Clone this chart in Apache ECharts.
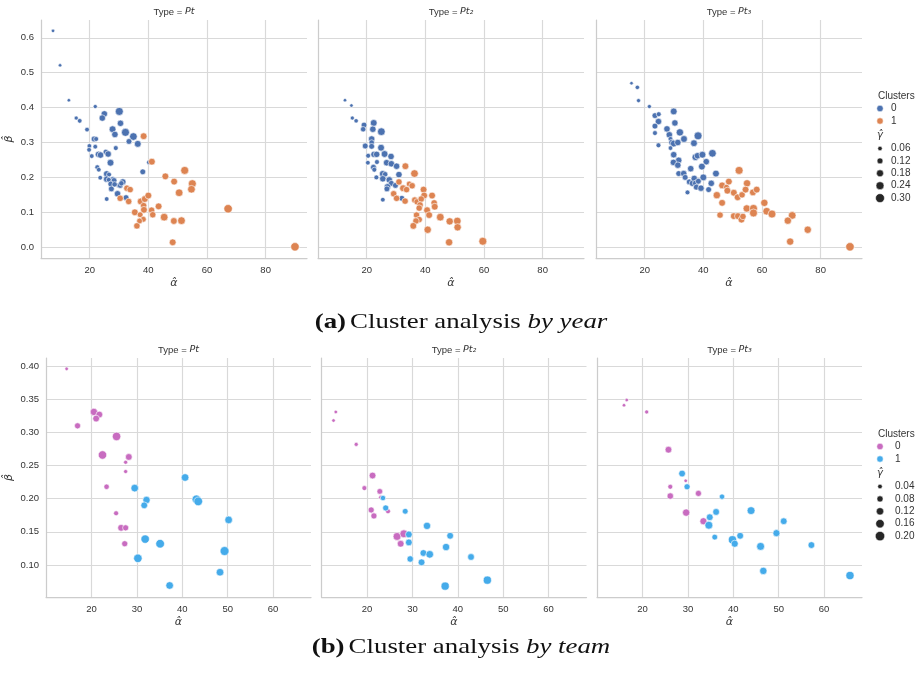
<!DOCTYPE html>
<html>
<head>
<meta charset="utf-8">
<script src="https://cdn.jsdelivr.net/npm/echarts@6/dist/echarts.min.js"></script>
<style>
html, body { margin: 0; padding: 0; background: #ffffff; }
#chart { width: 916px; height: 675px; }
</style>
</head>
<body>
<div id="chart"></div>
<script>
// ---- Facet labels, ticks and legend entries ----
const typeLabels = ['Pt', 'Pt\u2082', 'Pt\u2083'];
const clusterNames = ['0', '1'];
const yearXTicks = [20, 40, 60, 80];
const yearYTicks = [0.0, 0.1, 0.2, 0.3, 0.4, 0.5, 0.6];
const teamXTicks = [20, 30, 40, 50, 60];
const teamYTicks = [0.10, 0.15, 0.20, 0.25, 0.30, 0.35, 0.40];
const yearGammaTicks = [0.06, 0.12, 0.18, 0.24, 0.30];
const teamGammaTicks = [0.04, 0.08, 0.12, 0.16, 0.20];

// ---- (a) by year: [alpha, beta, gamma] per cluster ----
const yearPtC0 = [
  [7.5,0.620,0.03],[9.9,0.521,0.03],[12.9,0.421,0.03],[15.4,0.370,0.05],[16.6,0.362,0.07],[19.1,0.337,0.07],
  [21.9,0.403,0.05],[25.0,0.382,0.15],[24.3,0.370,0.15],[30.1,0.389,0.24],[30.5,0.355,0.15],[27.8,0.338,0.17],
  [28.6,0.323,0.15],[32.2,0.329,0.24],[34.9,0.317,0.22],[33.4,0.303,0.12],[36.4,0.296,0.17],[21.5,0.310,0.12],
  [22.2,0.310,0.08],[19.9,0.290,0.07],[19.8,0.279,0.07],[21.9,0.288,0.07],[20.7,0.261,0.07],[23.0,0.266,0.15],
  [23.7,0.264,0.15],[25.5,0.273,0.10],[26.3,0.267,0.15],[28.9,0.284,0.08],[27.1,0.242,0.17],[22.6,0.229,0.08],
  [23.1,0.222,0.07],[40.2,0.243,0.07],[38.1,0.216,0.12],[23.6,0.199,0.07],[25.8,0.210,0.15],[26.6,0.208,0.08],
  [25.8,0.195,0.15],[27.9,0.195,0.10],[28.3,0.191,0.12],[26.5,0.193,0.08],[27.2,0.181,0.12],[29.8,0.177,0.08],
  [30.4,0.177,0.12],[31.3,0.187,0.15],[27.4,0.167,0.12],[29.5,0.153,0.15],[32.4,0.142,0.12],[25.8,0.138,0.07],
  [28.5,0.180,0.10],[30.8,0.183,0.10]
];
const yearPtC1 = [
  [38.4,0.318,0.17],[41.2,0.245,0.17],[45.8,0.203,0.17],[52.4,0.220,0.24],[48.8,0.188,0.17],[55.0,0.182,0.24],
  [50.5,0.156,0.22],[54.7,0.166,0.22],[32.7,0.169,0.15],[33.8,0.165,0.15],[30.4,0.140,0.15],[33.3,0.131,0.15],
  [37.4,0.131,0.17],[38.8,0.138,0.17],[40.0,0.148,0.17],[43.5,0.117,0.17],[38.4,0.119,0.15],[38.5,0.107,0.17],
  [41.1,0.106,0.15],[41.5,0.093,0.15],[35.4,0.100,0.17],[37.2,0.093,0.12],[38.3,0.080,0.12],[37.0,0.075,0.12],
  [36.1,0.061,0.15],[45.4,0.086,0.22],[48.7,0.075,0.17],[51.3,0.076,0.22],[48.3,0.014,0.17],[67.2,0.110,0.27],
  [90.0,0.001,0.27]
];
const yearPt2C0 = [
  [12.6,0.421,0.03],[14.8,0.406,0.03],[15.1,0.370,0.05],[16.4,0.362,0.06],[19.1,0.350,0.12],[18.8,0.338,0.10],
  [22.4,0.356,0.17],[22.1,0.338,0.15],[25.0,0.331,0.22],[21.7,0.310,0.15],[21.7,0.300,0.10],[21.7,0.289,0.12],
  [19.5,0.290,0.12],[20.5,0.262,0.08],[20.4,0.242,0.07],[22.5,0.266,0.15],[23.4,0.266,0.15],[24.9,0.285,0.17],
  [26.1,0.267,0.17],[28.3,0.260,0.15],[23.5,0.244,0.08],[26.8,0.242,0.15],[28.4,0.239,0.15],[30.2,0.232,0.15],
  [22.3,0.229,0.12],[22.6,0.222,0.08],[25.5,0.210,0.17],[26.3,0.209,0.10],[31.0,0.208,0.15],[23.3,0.200,0.08],
  [25.5,0.196,0.15],[27.7,0.193,0.15],[28.4,0.183,0.12],[29.8,0.177,0.12],[27.1,0.173,0.15],[26.9,0.167,0.12],
  [32.0,0.140,0.12],[25.5,0.136,0.07]
];
const yearPt2C1 = [
  [33.2,0.232,0.17],[36.3,0.211,0.22],[31.0,0.187,0.15],[34.5,0.181,0.12],[35.5,0.176,0.15],[32.4,0.169,0.17],
  [33.6,0.165,0.15],[39.4,0.165,0.17],[39.6,0.148,0.17],[42.3,0.148,0.17],[29.2,0.153,0.15],[30.2,0.140,0.15],
  [33.1,0.132,0.15],[36.4,0.135,0.15],[37.2,0.130,0.15],[38.6,0.138,0.15],[38.2,0.121,0.15],[37.9,0.112,0.15],
  [43.0,0.127,0.15],[43.2,0.116,0.17],[40.6,0.106,0.17],[41.3,0.092,0.17],[45.1,0.086,0.22],[37.0,0.092,0.15],
  [37.9,0.079,0.15],[36.8,0.075,0.15],[35.9,0.061,0.17],[48.3,0.074,0.20],[50.9,0.075,0.22],[51.0,0.057,0.20],
  [40.8,0.050,0.20],[48.1,0.014,0.20],[59.6,0.017,0.24]
];
const yearPt3C0 = [
  [15.5,0.470,0.03],[17.5,0.458,0.06],[17.9,0.420,0.05],[21.6,0.403,0.05],[23.5,0.377,0.12],[24.8,0.381,0.08],
  [24.7,0.360,0.15],[23.5,0.347,0.12],[23.5,0.327,0.08],[24.7,0.292,0.08],[29.9,0.389,0.17],[30.3,0.356,0.15],
  [27.6,0.339,0.15],[28.4,0.322,0.15],[28.8,0.310,0.08],[29.3,0.300,0.15],[29.9,0.297,0.17],[31.3,0.300,0.15],
  [32.0,0.329,0.20],[33.4,0.310,0.17],[38.2,0.319,0.24],[36.8,0.298,0.17],[28.8,0.284,0.07],[29.9,0.265,0.15],
  [31.6,0.249,0.15],[29.8,0.243,0.15],[31.3,0.235,0.15],[37.3,0.258,0.17],[38.0,0.262,0.15],[39.7,0.265,0.17],
  [43.1,0.269,0.22],[41.0,0.245,0.15],[39.5,0.231,0.17],[31.6,0.211,0.12],[33.3,0.211,0.15],[35.7,0.225,0.15],
  [40.0,0.200,0.17],[33.8,0.200,0.12],[35.2,0.187,0.12],[36.3,0.183,0.15],[36.9,0.197,0.15],[37.4,0.183,0.15],
  [38.3,0.189,0.12],[37.6,0.172,0.12],[39.2,0.169,0.15],[34.6,0.157,0.08],[41.8,0.165,0.12],[42.7,0.183,0.15],
  [44.3,0.211,0.17]
];
const yearPt3C1 = [
  [52.2,0.220,0.24],[46.4,0.177,0.17],[47.9,0.172,0.12],[48.7,0.188,0.17],[48.2,0.162,0.17],[50.4,0.156,0.17],
  [51.7,0.143,0.17],[53.2,0.150,0.15],[54.9,0.183,0.20],[54.4,0.165,0.17],[56.9,0.157,0.17],[58.2,0.165,0.17],
  [44.6,0.149,0.20],[46.4,0.127,0.17],[60.8,0.127,0.20],[54.8,0.111,0.20],[57.1,0.111,0.24],[57.1,0.098,0.24],
  [61.6,0.103,0.22],[63.4,0.095,0.24],[70.3,0.091,0.22],[68.8,0.076,0.20],[75.6,0.050,0.20],[69.6,0.016,0.20],
  [90.0,0.001,0.27],[45.7,0.092,0.15],[50.4,0.089,0.17],[51.8,0.089,0.17],[53.0,0.079,0.17],[53.5,0.088,0.15]
];

// ---- (b) by team: [alpha, beta, gamma] per cluster ----
const teamPtC0 = [
  [14.5,0.396,0.02],[16.9,0.310,0.08],[20.5,0.331,0.12],[21.7,0.327,0.10],[21.0,0.321,0.10],[25.5,0.294,0.16],
  [22.4,0.266,0.16],[28.2,0.263,0.10],[27.5,0.255,0.03],[27.5,0.241,0.03],[23.3,0.218,0.06],[25.4,0.178,0.05],
  [26.5,0.156,0.10],[27.5,0.156,0.08],[27.3,0.132,0.08]
];
const teamPtC1 = [
  [40.6,0.232,0.13],[29.5,0.216,0.13],[32.1,0.198,0.12],[31.6,0.190,0.10],[43.1,0.199,0.17],[43.5,0.196,0.17],
  [50.2,0.168,0.13],[31.8,0.139,0.16],[35.1,0.132,0.17],[49.3,0.121,0.18],[30.2,0.110,0.16],[48.3,0.089,0.13],
  [37.2,0.069,0.13]
];
const teamPt2C0 = [
  [13.1,0.331,0.02],[12.6,0.318,0.02],[17.6,0.282,0.03],[21.2,0.235,0.10],[19.4,0.216,0.05],[22.8,0.211,0.07],
  [23.0,0.202,0.03],[20.9,0.183,0.08],[21.5,0.174,0.08],[24.6,0.181,0.05],[26.6,0.143,0.14],[28.1,0.147,0.14],
  [27.4,0.132,0.10]
];
const teamPt2C1 = [
  [23.5,0.201,0.06],[24.1,0.186,0.08],[28.4,0.181,0.07],[33.2,0.159,0.12],[29.2,0.146,0.10],[38.3,0.144,0.10],
  [29.2,0.134,0.10],[37.4,0.127,0.12],[32.4,0.118,0.10],[33.8,0.116,0.13],[29.5,0.109,0.09],[32.0,0.104,0.10],
  [42.9,0.112,0.10],[46.5,0.077,0.15],[37.2,0.068,0.15]
];
const teamPt3C0 = [
  [16.5,0.349,0.02],[15.9,0.341,0.02],[20.9,0.331,0.03],[25.7,0.274,0.10],[26.1,0.218,0.05],[26.1,0.204,0.09],
  [29.5,0.227,0.02],[32.3,0.208,0.08],[29.6,0.179,0.12],[33.4,0.166,0.11]
];
const teamPt3C1 = [
  [28.7,0.238,0.10],[29.8,0.218,0.08],[37.5,0.203,0.06],[43.9,0.182,0.14],[36.2,0.180,0.10],[34.8,0.172,0.10],
  [51.1,0.166,0.10],[34.6,0.160,0.14],[35.9,0.142,0.07],[49.5,0.148,0.11],[41.5,0.144,0.10],[39.8,0.138,0.15],
  [40.3,0.132,0.11],[46.0,0.128,0.14],[57.2,0.130,0.10],[46.6,0.091,0.12],[65.7,0.084,0.15]
];

// ---- styling ----
const SANS = '"Liberation Sans", Arial, sans-serif';
const MATH = '"DejaVu Sans", sans-serif';
const SERIF = '"Liberation Serif", "DejaVu Serif", serif';
const TEXT = '#333333';
const GRID_LINE = '#d9d9d9';
const SPINE = '#cccccc';

// marker diameter from gamma (area grows linearly with gamma)
function yearSize(g) { return Math.sqrt(8.75 + 271 * g) - 0.6; }
function teamSize(g) { return Math.sqrt(8 + 460 * g) - 0.6; }

const rows = [
  {
    top: 20, height: 238, lefts: [41, 318, 596], width: 266,
    xMin: 3.4, xMax: 94.1, yMin: -0.031, yMax: 0.651,
    xTicks: yearXTicks, yTicks: yearYTicks, yDigits: 1, nameGapY: 26,
    colors: ['#4c72b0', '#dd8452'], size: yearSize,
    panels: [[yearPtC0, yearPtC1], [yearPt2C0, yearPt2C1], [yearPt3C0, yearPt3C1]],
    titleY: 12, legendTop: 96, legendTextX: 891, gammaTicks: yearGammaTicks,
    caption: ['(a)', 'Cluster analysis ', 'by year'], captionY: 322
  },
  {
    top: 358, height: 239, lefts: [46, 321.5, 597], width: 265,
    xMin: 9.95, xMax: 68.35, yMin: 0.0516, yMax: 0.4124,
    xTicks: teamXTicks, yTicks: teamYTicks, yDigits: 2, nameGapY: 31,
    colors: ['#c86cc0', '#45abea'], size: teamSize,
    panels: [[teamPtC0, teamPtC1], [teamPt2C0, teamPt2C1], [teamPt3C0, teamPt3C1]],
    titleY: 350, legendTop: 434, legendTextX: 895, gammaTicks: teamGammaTicks,
    caption: ['(b)', 'Cluster analysis ', 'by team'], captionY: 647
  }
];

const grids = [], xAxes = [], yAxes = [], series = [], graphics = [];

rows.forEach(function (row) {
  row.panels.forEach(function (clusters, p) {
    const idx = grids.length;
    grids.push({ left: row.lefts[p], top: row.top, width: row.width, height: row.height, containLabel: false });
    xAxes.push({
      type: 'value', gridIndex: idx, min: row.xMin, max: row.xMax,
      axisLine: { show: true, onZero: false, lineStyle: { color: SPINE, width: 1.25 } },
      axisTick: { show: false, customValues: row.xTicks },
      axisLabel: { customValues: row.xTicks, color: TEXT, fontSize: 9.5, fontFamily: SANS, margin: 7,
        formatter: function (v) { return String(Math.round(v)); } },
      splitLine: { show: true, lineStyle: { color: GRID_LINE, width: 1.2 } },
      name: '\u03b1\u0302', nameLocation: 'middle', nameGap: 20,
      nameTextStyle: { fontFamily: MATH, fontStyle: 'italic', fontSize: 11, color: TEXT }
    });
    yAxes.push({
      type: 'value', gridIndex: idx, min: row.yMin, max: row.yMax,
      axisLine: { show: true, onZero: false, lineStyle: { color: SPINE, width: 1.25 } },
      axisTick: { show: false, customValues: row.yTicks },
      axisLabel: { show: p === 0, customValues: row.yTicks, color: TEXT, fontSize: 9.5, fontFamily: SANS, margin: 7,
        formatter: function (v) { return v.toFixed(row.yDigits); } },
      splitLine: { show: true, lineStyle: { color: GRID_LINE, width: 1.2 } },
      name: p === 0 ? '\u03b2\u0302' : '', nameLocation: 'middle', nameGap: row.nameGapY,
      nameTextStyle: { fontFamily: MATH, fontStyle: 'italic', fontSize: 11, color: TEXT }
    });
    clusters.forEach(function (pts, c) {
      series.push({
        type: 'scatter', name: clusterNames[c], xAxisIndex: idx, yAxisIndex: idx,
        data: pts, symbol: 'circle',
        symbolSize: function (d) { return row.size(d[2]); },
        itemStyle: { color: row.colors[c], borderColor: '#ffffff', borderWidth: 0.6, opacity: 1 },
        silent: true, animation: false
      });
    });
    // facet title
    graphics.push({
      type: 'text', x: row.lefts[p] + row.width / 2, y: row.titleY, silent: true,
      style: {
        text: '{n|Type = }{i|' + typeLabels[p] + '}', align: 'center', verticalAlign: 'middle',
        rich: {
          n: { fontFamily: SANS, fontSize: 9.5, fill: TEXT },
          i: { fontFamily: MATH, fontStyle: 'italic', fontSize: 9.5, fill: TEXT }
        }
      }
    });
  });

  // legend: cluster colours and gamma sizes
  const lx = 880, top = row.legendTop;
  graphics.push({ type: 'text', x: 878, y: top, silent: true,
    style: { text: 'Clusters', fontFamily: SANS, fontSize: 10, fill: TEXT, verticalAlign: 'middle' } });
  clusterNames.forEach(function (name, c) {
    const cy = top + 12.5 * (c + 1);
    graphics.push({ type: 'circle', silent: true, shape: { cx: lx, cy: cy, r: 3.2 },
      style: { fill: row.colors[c], stroke: '#ffffff', lineWidth: 0.5 } });
    graphics.push({ type: 'text', x: row.legendTextX, y: cy, silent: true,
      style: { text: name, fontFamily: SANS, fontSize: 10, fill: TEXT, verticalAlign: 'middle' } });
  });
  graphics.push({ type: 'text', x: 877, y: top + 39, silent: true,
    style: { text: '\u03b3\u0302', fontFamily: MATH, fontStyle: 'italic', fontSize: 10, fill: TEXT, verticalAlign: 'middle' } });
  row.gammaTicks.forEach(function (g, k) {
    const cy = top + 52.5 + 12.4 * k;
    graphics.push({ type: 'circle', silent: true, shape: { cx: lx, cy: cy, r: row.size(g) / 2 },
      style: { fill: '#262626', stroke: '#ffffff', lineWidth: 0.5 } });
    graphics.push({ type: 'text', x: row.legendTextX, y: cy, silent: true,
      style: { text: g.toFixed(2), fontFamily: SANS, fontSize: 10, fill: TEXT, verticalAlign: 'middle' } });
  });

  // sub-figure caption (stretched horizontally to the wide book face)
  graphics.push({
    type: 'text', x: 461, y: row.captionY, scaleX: 1.22, silent: true,
    style: {
      text: '{b|' + row.caption[0] + '} {r|' + row.caption[1] + '}{i|' + row.caption[2] + '}',
      align: 'center', verticalAlign: 'middle',
      rich: {
        b: { fontFamily: SERIF, fontWeight: 'bold', fontSize: 22, fill: '#111' },
        r: { fontFamily: SERIF, fontSize: 22, fill: '#111' },
        i: { fontFamily: SERIF, fontStyle: 'italic', fontSize: 22, fill: '#111' }
      }
    }
  });
});

const chart = echarts.init(document.getElementById('chart'), null, { renderer: 'canvas' });
chart.setOption({
  backgroundColor: '#ffffff',
  animation: false,
  grid: grids,
  xAxis: xAxes,
  yAxis: yAxes,
  series: series,
  graphic: graphics
});
</script>
</body>
</html>
